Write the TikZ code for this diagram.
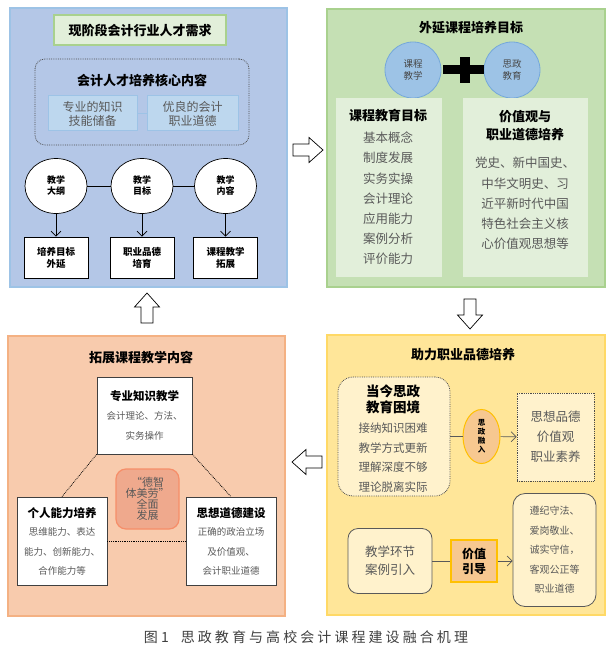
\documentclass[tikz,border=0pt]{standalone}
\usepackage{fontspec}
\setmainfont{Noto Sans CJK SC}
\newfontfamily\capfont{Noto Sans CJK SC}[LetterSpace=22]
\usepackage{tikz}
\usetikzlibrary{
  shapes.geometric,
  arrows.meta,
  positioning
}
\definecolor{bluefill}{HTML}{B4C7E7}
\definecolor{blueline}{HTML}{9DC3E6}
\definecolor{bluesub}{HTML}{BDD7EE}
\definecolor{greenfill}{HTML}{C5E0B4}
\definecolor{greenline}{HTML}{A9D18E}
\definecolor{greenlight}{HTML}{E2EFDA}
\definecolor{ballfill}{HTML}{9DC3E6}
\definecolor{ballline}{HTML}{75A8DA}
\definecolor{orangefill}{HTML}{F8CBAD}
\definecolor{orangeline}{HTML}{F4B183}
\definecolor{salmon}{HTML}{EFA98D}
\definecolor{yellowfill}{HTML}{FFE699}
\definecolor{yellowline}{HTML}{FFD966}
\definecolor{cream}{HTML}{FFF2CC}
\definecolor{gold}{HTML}{FFC000}
\definecolor{apricot}{HTML}{F7C890}
\definecolor{txtgray}{HTML}{595959}
\definecolor{capgray}{HTML}{3F3F3F}
\tikzset{
  arrow/.style    = {-{Straight Barb[length=5pt, width=10pt]}, line width=0.7pt},
  panel/.style    = {draw, inner sep=0pt, line width=1.2pt},
  head/.style     = {font=\fontsize{13}{15}\selectfont\bfseries, align=center, inner sep=0pt},
  item/.style     = {font=\fontsize{12.5}{14}\selectfont, text=txtgray, inner sep=0pt},
  smallitem/.style = {font=\fontsize{10}{12}\selectfont, text=txtgray, inner sep=0pt},
  circ/.style     = {ellipse, draw, fill=white, line width=0.7pt, minimum width=62pt,
                     minimum height=55pt, inner sep=0pt, align=center,
                     font=\fontsize{9}{11}\selectfont\bfseries},
  wbox/.style     = {draw, fill=white, line width=0.7pt, inner sep=0pt, align=center},
  subbox/.style   = {draw=blueline, fill=bluesub, line width=1pt, inner sep=0pt,
                     minimum width=89pt, minimum height=35pt, align=center,
                     font=\fontsize{12}{14}\selectfont, text=txtgray},
  ball/.style     = {circle, draw=ballline, fill=ballfill, line width=0.8pt,
                     minimum size=56pt, inner sep=0pt, align=center,
                     font=\fontsize{9.5}{12}\selectfont, text=txtgray!80!black},
  creambox/.style = {draw=txtgray, fill=cream, line width=0.8pt, inner sep=0pt, align=center},
  bigarrow/.style = {draw, fill=white, line width=0.7pt, line join=miter},
}

\begin{document}
\begin{tikzpicture}[x=1pt, y=-1pt]
    \useasboundingbox (0,0) rectangle (613,655);

    % --- TOP LEFT: INDUSTRY DEMAND ---
    \node[panel, draw=blueline, fill=bluefill, minimum width=277pt, minimum height=279pt] (demand) at (148.5,147.5) {};
    \node[head, draw=greenline, fill=greenlight, line width=1.5pt, minimum width=172pt, minimum height=30pt] (demandtitle) at (140,30) {现阶段会计行业人才需求};
    \node[draw=gray!60!black, densely dotted, line width=0.8pt, rounded corners=10pt, minimum width=214pt, minimum height=86pt] (core) at (142,102) {};
    \node[head] (coretitle) at (142,80) {会计人才培养核心内容};
    \node[subbox] (k1) at (92.5,113.5) {专业的知识\\技能储备};
    \node[subbox, minimum width=91pt] (k2) at (192.5,113.5) {优良的会计\\职业道德};
    \draw[blueline, line width=1pt] (k1) -- (k2);

    \foreach \i/\x/\ctxt/\btxt in {1/56/教学\\大纲/培养目标\\外延, 2/142/教学\\目标/职业品德\\培育, 3/225.5/教学\\内容/课程教学\\拓展} {
        \node[circ] (c\i) at (\x,186) {\ctxt};
        \node[wbox, minimum width=64pt, minimum height=41pt, font=\fontsize{9.5}{12}\selectfont\bfseries] (b\i) at (\x,257.5) {\btxt};
        \draw[arrow] (c\i) -- (b\i);
    }
    \draw[line width=0.7pt] (c1) -- (c2) (c2) -- (c3);

    % --- TOP RIGHT: COURSE GOALS ---
    \node[panel, draw=greenline, fill=greenfill, minimum width=278pt, minimum height=278pt] (goals) at (466,148) {};
    \node[head] (goalstitle) at (471,28) {外延课程培养目标};
    \node[ball] (course) at (413,70) {课程\\教学};
    \node[ball] (ideo) at (512,70) {思政\\教育};
    \fill (460,57) rectangle (470,83);
    \fill (443,65.5) rectangle (484,74.5);

    \node[fill=greenlight, minimum width=106pt, minimum height=179pt] (left) at (389,187.5) {};
    \node[fill=greenlight, minimum width=125pt, minimum height=179pt] (right) at (525.5,187.5) {};
    \node[head] (lefttitle) at (388,115) {课程教育目标};
    \foreach \t [count=\i from 0] in {基本概念,制度发展,实务实操,会计理论,应用能力,案例分析,评价能力}
        \node[item] (g\i) at (388,138+20.2*\i) {\t};
    \node[head, font=\fontsize{13}{18}\selectfont\bfseries] (righttitle) at (525,126) {价值观与\\职业道德培养};
    \foreach \t [count=\i from 0] in {党史、新中国史、,中华文明史、习,近平新时代中国,特色社会主义核,心价值观思想等}
        \node[item] (v\i) at (525,163+20.25*\i) {\t};

    % --- BOTTOM RIGHT: PROFESSIONAL ETHICS ---
    \node[panel, draw=yellowline, fill=yellowfill, minimum width=278pt, minimum height=280pt] (ethics) at (466,475) {};
    \node[head] (ethicstitle) at (463,355) {助力职业品德培养};
    \node[creambox, draw=gray!60!black, densely dotted, rounded corners=15pt, minimum width=112pt, minimum height=119pt] (dilemma) at (394,436.5) {};
    \node[head, font=\fontsize{13.5}{16}\selectfont\bfseries] (dilemmatitle) at (393,399) {当今思政\\教育困境};
    \foreach \t [count=\i from 0] in {接纳知识困难,教学方式更新,理解深度不够,理论脱离实际}
        \node[item, font=\fontsize{11.5}{14}\selectfont] (d\i) at (393,428+19.6*\i) {\t};
    \node[ellipse, draw=gold, fill=apricot, line width=1pt, minimum width=37pt, minimum height=54pt, inner sep=0pt, align=center, font=\fontsize{7.5}{9}\selectfont\bfseries] (merge) at (481.5,436.5) {思\\政\\融\\入};
    \node[creambox, draw=gray!60!black, densely dotted, minimum width=77pt, minimum height=88pt, font=\fontsize{12.5}{20}\selectfont, text=txtgray] (quality) at (555.5,437) {思想品德\\价值观\\职业素养};
    \draw[line width=0.8pt, txtgray] (dilemma) -- (merge);
    \draw[arrow, txtgray] (merge) -- (quality);

    \node[creambox, rounded corners=10pt, minimum width=84pt, minimum height=65pt, font=\fontsize{12.5}{18}\selectfont, text=txtgray] (case) at (390,561) {教学环节\\案例引入};
    \node[draw=gold, fill=apricot, line width=1.5pt, minimum width=46pt, minimum height=42pt, inner sep=0pt, align=center, font=\fontsize{12}{15}\selectfont\bfseries] (guide) at (474,561) {价值\\引导};
    \node[creambox, rounded corners=12pt, minimum width=83pt, minimum height=113pt, font=\fontsize{10}{19.5}\selectfont, text=txtgray] (code) at (554.5,550) {遵纪守法、\\爱岗敬业、\\诚实守信，\\客观公正等\\职业道德};
    \draw[line width=0.8pt, txtgray] (case) -- (guide);
    \draw[arrow, txtgray] (guide.east) -- (guide.east -| code.west);

    % --- BOTTOM LEFT: EXTENDED CONTENT ---
    \node[panel, draw=orangeline, fill=orangefill, minimum width=277pt, minimum height=280pt] (content) at (146.5,476) {};
    \node[head] (contenttitle) at (141,358) {拓展课程教学内容};
    \node[wbox, draw=black!75, minimum width=95pt, minimum height=77pt] (knowledge) at (144.5,415.5) {};
    \node[wbox, draw=black!75, minimum width=90pt, minimum height=88pt] (ability) at (62,541) {};
    \node[wbox, draw=black!75, minimum width=90pt, minimum height=88pt] (moral) at (231,541) {};
    \draw[densely dotted, line width=0.8pt] (knowledge.south west) -- (ability.north);
    \draw[densely dotted, line width=0.8pt] (knowledge.south east) -- (moral.north);
    \draw[densely dotted, line width=0.8pt] (ability) -- (moral);
    \node[head, font=\fontsize{11.5}{14}\selectfont\bfseries] (kt) at (144.5,396) {专业知识教学};
    \node[smallitem, align=center, font=\fontsize{9.5}{20}\selectfont] (kb) at (144.5,426) {会计理论、方法、\\实务操作};
    \node[head, font=\fontsize{11.5}{14}\selectfont\bfseries] (at) at (62,513) {个人能力培养};
    \node[smallitem, align=center, font=\fontsize{9.5}{19.5}\selectfont] (ab) at (62,551.5) {思维能力、表达\\能力、创新能力、\\合作能力等};
    \node[head, font=\fontsize{11.5}{14}\selectfont\bfseries] (mt) at (231,513) {思想道德建设};
    \node[smallitem, align=center, font=\fontsize{9.5}{19.5}\selectfont] (mb) at (231,551.5) {正确的政治立场\\及价值观、\\会计职业道德};
    \node[draw=orangeline!80!red, fill=salmon, line width=1.2pt, rounded corners=10pt, minimum width=63pt, minimum height=60pt, inner sep=0pt, align=center, font=\fontsize{11}{11}\selectfont, text=txtgray] (whole) at (147.5,499) {“德智\\体美劳”\\全面\\发展};

    % --- HOLLOW ARROWS BETWEEN PANELS ---
    \foreach \x/\y/\r in {308/150/0, 470/314/-90, 307/462/180, 147/308/90}
        \draw[bigarrow, shift={(\x,\y)}, rotate=\r]
            (-15,-6) -- (1,-6) -- (1,-12.5) -- (15,0) -- (1,12.5) -- (1,6) -- (-15,6) -- cycle;

    % Caption
    \node[font=\capfont\fontsize{14}{16}\selectfont, text=capgray] (caption) at (306,637) {图1\hspace{12pt}思政教育与高校会计课程建设融合机理};

\end{tikzpicture}
\end{document}
